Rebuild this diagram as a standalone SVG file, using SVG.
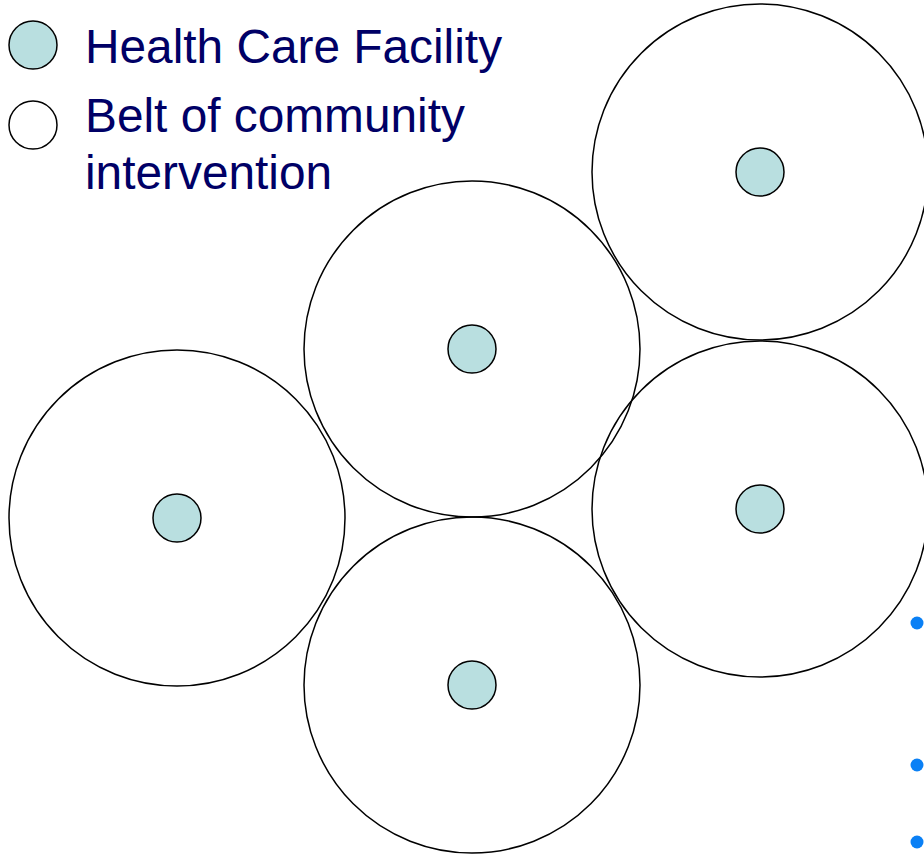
<svg xmlns="http://www.w3.org/2000/svg" width="924" height="856" viewBox="0 0 924 856">
<style>
.belt{fill:none;stroke:#000;stroke-width:1.5}
.hcf{fill:#b9dfe0;stroke:#000;stroke-width:1.5}
.lbl{font-family:"Liberation Sans",Arial,sans-serif;font-size:47.8px;fill:#000066}
.dot{fill:#0a80f5}
</style>
<rect width="924" height="856" fill="#fff"/>
<g id="legend">
<circle class="hcf" cx="33" cy="45" r="24"/>
<circle cx="33" cy="125" r="24" fill="#fff" stroke="#000" stroke-width="1.5"/>
<text class="lbl" x="85" y="63">Health Care Facility</text>
<text class="lbl" x="85" y="132">Belt of community</text>
<text class="lbl" x="85" y="189">intervention</text>
</g>
<g id="zone-top-right"><circle class="belt" cx="760" cy="172" r="168"/><circle class="hcf" cx="760" cy="172" r="24"/></g>
<g id="zone-middle-top"><circle class="belt" cx="472" cy="349" r="168"/><circle class="hcf" cx="472" cy="349" r="24"/></g>
<g id="zone-left"><circle class="belt" cx="177" cy="518" r="168"/><circle class="hcf" cx="177" cy="518" r="24"/></g>
<g id="zone-right"><circle class="belt" cx="760" cy="509" r="168"/><circle class="hcf" cx="760" cy="509" r="24"/></g>
<g id="zone-bottom"><circle class="belt" cx="472" cy="685" r="168"/><circle class="hcf" cx="472" cy="685" r="24"/></g>
<g id="bullets">
<circle class="dot" cx="917" cy="623" r="6.5"/>
<circle class="dot" cx="917" cy="765" r="6.5"/>
<circle class="dot" cx="917" cy="842" r="6.5"/>
</g>
</svg>
